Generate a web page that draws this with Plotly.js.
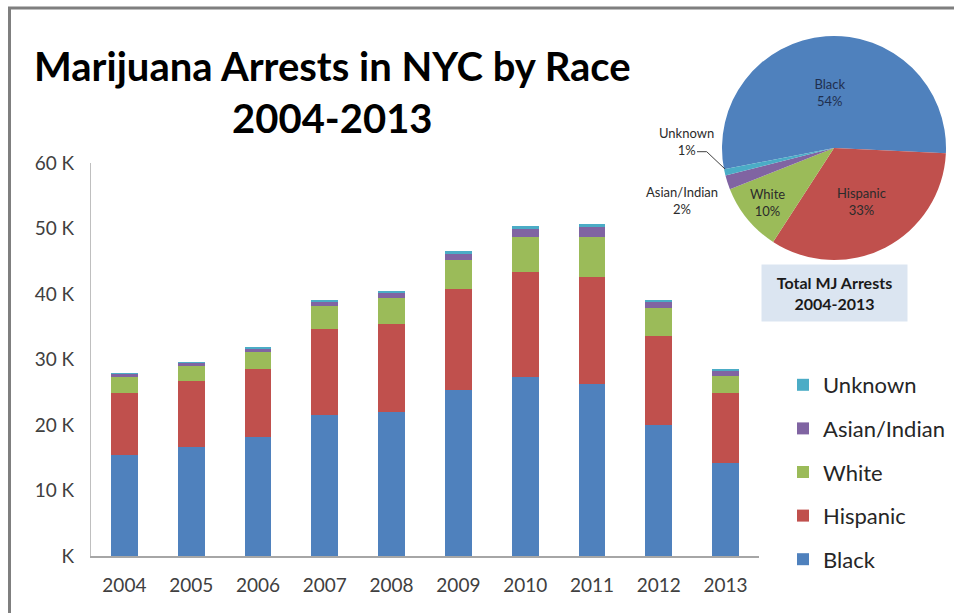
<!DOCTYPE html>
<html>
<head>
<meta charset="utf-8">
<script src="https://cdn.plot.ly/plotly-3.0.1.min.js"></script>
<style>html,body{margin:0;padding:0;background:#fff;}#chart{width:954px;height:613px;}</style>
</head>
<body>
<div id="chart"></div>
<script>
// ---- data ----
var years = ['2004','2005','2006','2007','2008','2009','2010','2011','2012','2013'];
var black    = [15400, 16700, 18100, 21600, 22000, 25300, 27300, 26200, 20050, 14200];
var hispanic = [9500, 10000, 10500, 13000, 13400, 15400, 16000, 16400, 13500, 10700];
var white    = [2500, 2300, 2500, 3550, 4000, 4500, 5450, 6150, 4250, 2650];
var asian    = [350, 450, 500, 600, 700, 950, 1200, 1450, 1000, 700];
var unknown  = [150, 200, 350, 400, 350, 350, 400, 550, 350, 350];
var raceNames = ['Black', 'Hispanic', 'White', 'Asian/Indian', 'Unknown'];
var yTickVals = [0, 10000, 20000, 30000, 40000, 50000, 60000];
var yTickText = ['K', '10 K', '20 K', '30 K', '40 K', '50 K', '60 K'];

var colors = ['#4F81BD', '#C0504D', '#9BBB59', '#8064A2', '#4BACC6'];
var series = [black, hispanic, white, asian, unknown];
var FONT = 'Lato, "Open Sans", sans-serif';
var W = 954, H = 613;
function px(x){ return x / W; }
function py(y){ return 1 - y / H; }

var traces = series.map(function(s, i){
  return {
    type: 'bar', x: years, y: s, name: raceNames[i], legendgroup: raceNames[i],
    legendrank: 1000 - i,
    marker: {color: colors[i], line: {width: 0}},
    hoverinfo: 'x+y+name'
  };
});

var sums = series.map(function(s){ return s.reduce(function(a,b){return a+b;}, 0); });
var total = sums.reduce(function(a,b){return a+b;}, 0);
var pct = sums.map(function(v){ return Math.round(100 * v / total) + '%'; });

traces.push({
  type: 'pie', labels: raceNames, values: sums, sort: false,
  direction: 'clockwise', rotation: 259,
  marker: {colors: colors, line: {width: 0}},
  domain: {x: [px(722), px(946)], y: [py(260), py(36)]},
  texttemplate: ['%{label}<br>%{percent:.0%}', '%{label}<br>%{percent:.0%}', '%{label}<br>%{percent:.0%}', '', ''],
  textposition: ['inside', 'inside', 'inside', 'none', 'none'],
  insidetextorientation: 'horizontal',
  textfont: {family: FONT, size: 13, color: ['#1f2f4f', '#2b2b2b', '#2b2b2b', '#2b2b2b', '#2b2b2b']},
  showlegend: false, hoverinfo: 'label+percent'
});

var layout = {
  width: W, height: H,
  margin: {l: 0, r: 0, t: 0, b: 0},
  paper_bgcolor: '#ffffff', plot_bgcolor: '#ffffff',
  barmode: 'stack', bargap: 0.6,
  font: {family: FONT, color: '#404040'},
  showlegend: true,
  legend: {
    x: px(783), y: py(364), xanchor: 'left', yanchor: 'top',
    traceorder: 'grouped', font: {family: FONT, size: 22, color: '#262626'},
    bgcolor: 'rgba(0,0,0,0)', tracegroupgap: 12
  },
  xaxis: {
    domain: [px(91), px(759)], type: 'category',
    showgrid: false, zeroline: false,
    showline: true, linecolor: '#a6a6a6', linewidth: 2,
    ticks: '', ticklabelstandoff: 11,
    tickfont: {family: FONT, size: 19, color: '#404040'},
    fixedrange: true
  },
  yaxis: {
    domain: [py(556), py(163)], range: [0, 60000],
    tickvals: yTickVals, ticktext: yTickText,
    showgrid: false, zeroline: false,
    showline: true, linecolor: '#bfbfbf', linewidth: 1,
    ticks: '', ticklabelstandoff: 12,
    tickfont: {family: FONT, size: 19, color: '#404040'},
    fixedrange: true
  },
  annotations: [
    {xref: 'paper', yref: 'paper', x: px(332), y: py(92), xanchor: 'center', yanchor: 'middle',
     showarrow: false, align: 'center',
     text: '<b>Marijuana Arrests in NYC by Race<br>2004-2013</b>',
     font: {family: FONT, size: 40, color: '#000000'}},
    {xref: 'paper', yref: 'paper', x: px(834.5), y: py(293), xanchor: 'center', yanchor: 'middle',
     showarrow: false, align: 'center', width: 143, height: 54, bgcolor: '#dbe5f1',
     text: '<b>Total MJ Arrests<br>2004-2013</b>',
     font: {family: FONT, size: 16, color: '#1a1a1a'}},
    {xref: 'paper', yref: 'paper', x: px(686), y: py(141), xanchor: 'center', yanchor: 'middle',
     showarrow: false, align: 'center',
     text: raceNames[4] + '<br>' + pct[4],
     font: {family: FONT, size: 13, color: '#2b2b2b'}},
    {xref: 'paper', yref: 'paper', x: px(682), y: py(200), xanchor: 'center', yanchor: 'middle',
     showarrow: false, align: 'center',
     text: raceNames[3] + '<br>' + pct[3],
     font: {family: FONT, size: 13, color: '#2b2b2b'}}
  ],
  shapes: [
    {type: 'line', xref: 'paper', yref: 'paper', x0: px(8), x1: 1, y0: py(8), y1: py(8),
     line: {color: '#7f7f7f', width: 3}},
    {type: 'line', xref: 'paper', yref: 'paper', x0: px(9.5), x1: px(9.5), y0: py(7), y1: 0,
     line: {color: '#7f7f7f', width: 3}},
    {type: 'path', xref: 'paper', yref: 'paper',
     path: 'M' + px(697) + ',' + py(151.7) + ' L' + px(706.7) + ',' + py(151.7) + ' L' + px(725) + ',' + py(169),
     line: {color: '#404040', width: 1}}
  ]
};

Plotly.newPlot('chart', traces, layout, {displayModeBar: false, staticPlot: true});
</script>
</body>
</html>
